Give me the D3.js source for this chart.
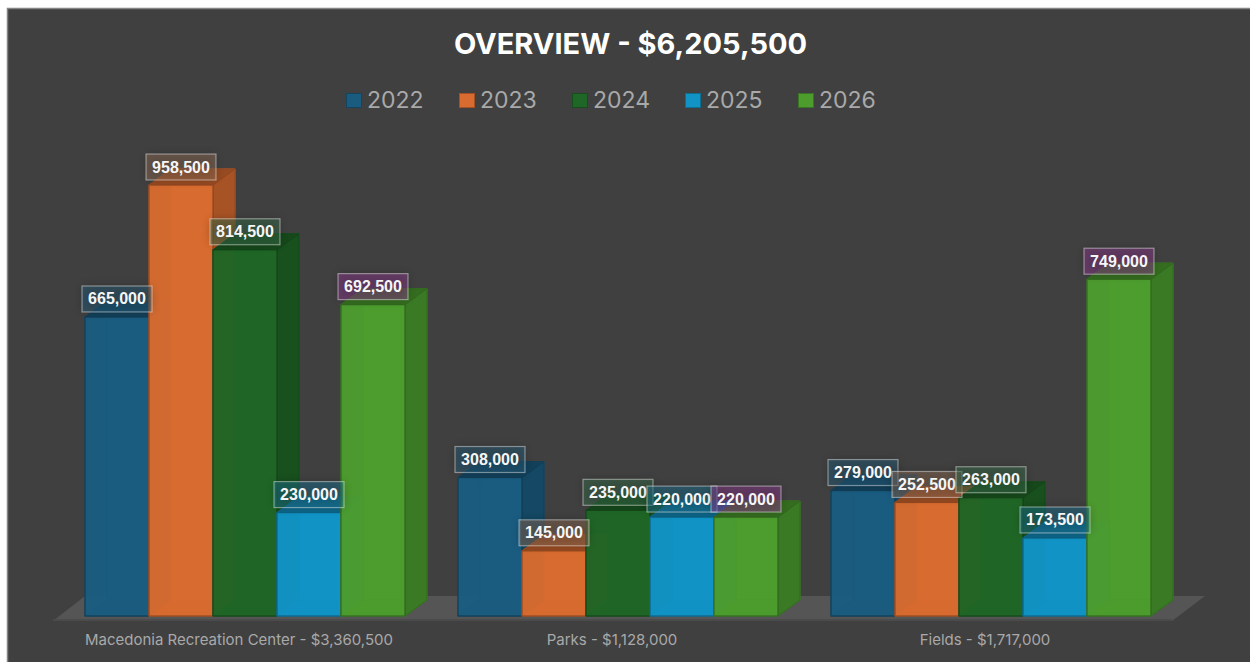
<!DOCTYPE html>
<html>
<head>
<meta charset="utf-8">
<script src="https://cdn.jsdelivr.net/npm/d3@7"></script>
<style>
  html, body { margin: 0; padding: 0; background: #fff; overflow: hidden; }
  svg { display: block; }
</style>
</head>
<body>
<svg id="chart" width="1250" height="662"></svg>
<script>
var categories = ['Macedonia Recreation Center - $3,360,500', 'Parks - $1,128,000', 'Fields - $1,717,000'];
var years = ['2022', '2023', '2024', '2025', '2026'];
var values2022 = [665000, 308000, 279000];
var values2023 = [958500, 145000, 252500];
var values2024 = [814500, 235000, 263000];
var values2025 = [230000, 220000, 173500];
var values2026 = [692500, 220000, 749000];
var seriesValues = [values2022, values2023, values2024, values2025, values2026];
var seriesColors = ['#1a5c80', '#d86b30', '#1f6727', '#1293c5', '#4c9c2e'];
var labelColors = ['#2a6280', '#94705c', '#3f7450', '#1f7896', '#943e96'];
var chartTitle = 'OVERVIEW - $6,205,500';

var depthX = 22, depthY = 16;
var fmt = d3.format(',');
var svg = d3.select('#chart');

// drop shadow used behind the data labels
svg.append('defs').append('filter')
  .attr('id', 'soft')
  .attr('x', '-40%').attr('y', '-80%').attr('width', '180%').attr('height', '260%')
  .append('feGaussianBlur').attr('stdDeviation', 5);

svg.append('rect')
  .attr('x', 7.5).attr('y', 8.5)
  .attr('width', 1260).attr('height', 670)
  .attr('fill', '#404040')
  .attr('stroke', '#858585')
  .attr('stroke-width', 1.5);

var x0 = d3.scaleBand().domain(categories).range([85, 1151]).paddingInner(53 / 373).paddingOuter(0);
var x1 = d3.scaleBand().domain(years).range([0, x0.bandwidth()]);
var y = d3.scaleLinear().domain([0, 958500]).range([616, 185]);

// title and legend
svg.append('text')
  .attr('x', 630.5).attr('y', 54)
  .attr('text-anchor', 'middle')
  .attr('fill', '#fff')
  .attr('font-family', 'Inter, sans-serif')
  .attr('font-weight', 700)
  .attr('font-size', 29)
  .text(chartTitle);

var legendX = d3.scalePoint().domain(years).range([346, 798]);
var legend = svg.selectAll('.legend').data(years).enter().append('g')
  .attr('class', 'legend')
  .attr('transform', function(d) { return 'translate(' + legendX(d) + ',93)'; });
legend.append('rect')
  .attr('x', 0.5).attr('y', 0.5).attr('width', 15).attr('height', 14)
  .attr('fill', function(d, i) { return seriesColors[i]; })
  .attr('stroke', function(d, i) { return d3.color(seriesColors[i]).darker(0.8); });
legend.append('text')
  .attr('x', 21).attr('y', 15)
  .attr('fill', '#a9a9a9')
  .attr('font-family', 'Inter, sans-serif')
  .attr('font-size', 23)
  .text(function(d) { return d; });

// floor of the 3d plot
var floorLeft = x0.range()[0], floorRight = x0.range()[1];
var floorBase = y(0);
svg.append('path')
  .attr('d', d3.line()([
    [floorLeft - 32, floorBase + 5],
    [floorLeft, floorBase - 20],
    [floorRight + 54, floorBase - 20],
    [floorRight + 21, floorBase + 5]
  ]) + 'Z')
  .attr('fill', '#555555');
svg.append('rect')
  .attr('x', floorLeft - 32).attr('y', floorBase + 3)
  .attr('width', floorRight - floorLeft + 53).attr('height', 2)
  .attr('fill', '#4b4b4b');

function poly(points) {
  return d3.line()(points) + 'Z';
}

// bars, series by series inside each category
var bw = x1.bandwidth();
var labelData = [];
categories.forEach(function(cat, c) {
  years.forEach(function(yr, s) {
    var v = seriesValues[s][c];
    var left = x0(cat) + x1(yr), right = left + bw;
    var top = y(v), base = y(0);
    var col = seriesColors[s];
    var g = svg.append('g').attr('class', 'bar');
    var edge = d3.color(col).darker(1.1);
    var innerEdge = d3.color(col).darker(0.25);

    // inside faces seen through the front
    g.append('path')
      .attr('d', poly([[left + depthX, top - depthY], [right + depthX, top - depthY], [right + depthX, base - depthY], [left + depthX, base - depthY]]))
      .attr('fill', col)
      .attr('stroke', innerEdge).attr('stroke-width', 1);
    g.append('path')
      .attr('d', poly([[left, base], [left + depthX, base - depthY], [right + depthX, base - depthY], [right, base]]))
      .attr('fill', d3.color(col).darker(0.12))
      .attr('stroke', innerEdge).attr('stroke-width', 1);
    // left inner face stays thin so the neighbouring bar tints through it
    g.append('path')
      .attr('d', poly([[left, top], [left + depthX, top - depthY], [left + depthX, base - depthY], [left, base]]))
      .attr('fill', col)
      .attr('fill-opacity', 0.8)
      .attr('stroke', innerEdge).attr('stroke-width', 1);
    // outside faces
    g.append('path')
      .attr('d', poly([[right, top], [right + depthX, top - depthY], [right + depthX, base - depthY], [right, base]]))
      .attr('fill', d3.color(col).darker(0.7))
      .attr('stroke', edge).attr('stroke-width', 1);
    g.append('path')
      .attr('d', poly([[left, top], [left + depthX, top - depthY], [right + depthX, top - depthY], [right, top]]))
      .attr('fill', d3.color(col).darker(1))
      .attr('stroke', edge).attr('stroke-width', 1);
    g.append('rect')
      .attr('x', left).attr('y', top)
      .attr('width', bw).attr('height', base - top)
      .attr('fill', col)
      .attr('fill-opacity', 0.8)
      .attr('stroke', edge)
      .attr('stroke-width', 1.2);

    labelData.push({ cx: left + bw / 2, top: top, value: v, s: s });
  });
});

// category labels sit a little left of their bar groups in the original
svg.selectAll('.cat').data(categories).enter().append('text')
  .attr('class', 'cat')
  .attr('x', function(d) { return x0(d) + x0.bandwidth() / 2 - 6; })
  .attr('y', 645)
  .attr('text-anchor', 'middle')
  .attr('fill', '#a9a9a9')
  .attr('font-family', 'Inter, sans-serif')
  .attr('font-size', 15)
  .text(function(d) { return d; });

// data labels
var labels = svg.selectAll('.label').data(labelData).enter().append('g')
  .attr('class', 'label')
  .attr('transform', function(d) { return 'translate(' + d.cx + ',' + (d.top - 18) + ')'; });
labels.append('rect')
  .attr('x', -34).attr('y', -12).attr('width', 68).attr('height', 24)
  .attr('fill', '#000').attr('opacity', 0.28)
  .attr('filter', 'url(#soft)');
labels.append('rect')
  .attr('x', -35).attr('y', -13).attr('width', 70).attr('height', 26)
  .attr('fill', function(d) { return labelColors[d.s]; })
  .attr('fill-opacity', 0.45)
  .attr('stroke', 'rgba(255,255,255,0.42)')
  .attr('stroke-width', 1.2);
labels.append('text')
  .attr('y', 5.5)
  .attr('text-anchor', 'middle')
  .attr('fill', '#f6f6f6')
  .attr('font-family', '"Liberation Sans", Arial, sans-serif')
  .attr('font-weight', 700)
  .attr('font-size', 16)
  .text(function(d) { return fmt(d.value); });
</script>
</body>
</html>
